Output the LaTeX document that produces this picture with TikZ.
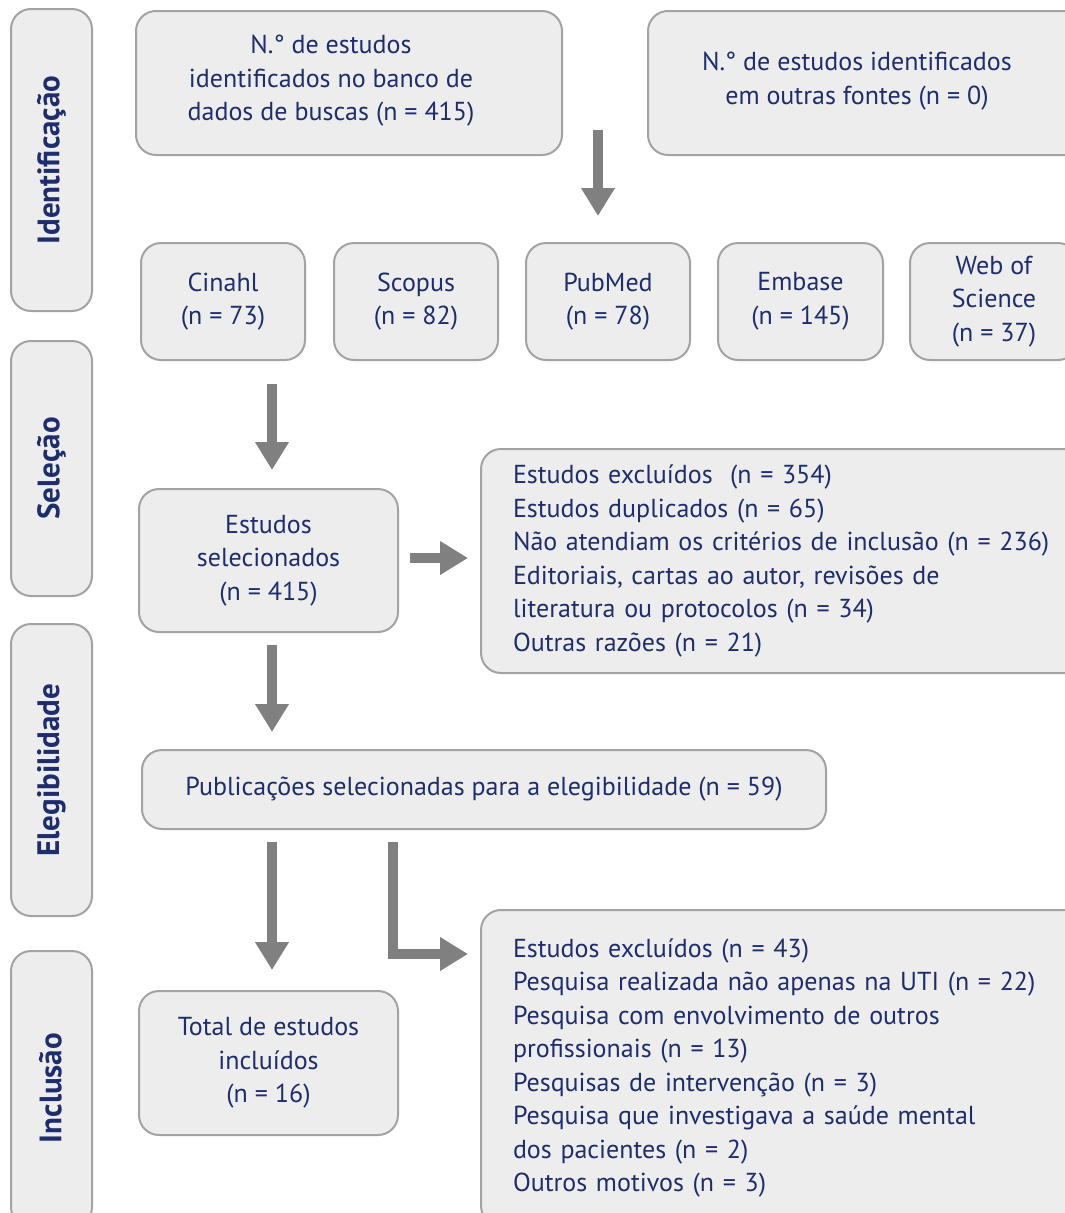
\documentclass[tikz,border=0pt]{standalone}
\usepackage{fontspec}
\setmainfont{PT Sans}
\usetikzlibrary{arrows.meta}
\definecolor{navy}{HTML}{1E2D6C}
\definecolor{boxfill}{HTML}{EDEDED}
\definecolor{boxline}{HTML}{A3A3A3}
\definecolor{arr}{HTML}{808080}
\tikzset{
  box/.style={draw=boxline, fill=boxfill, line width=2pt, rounded corners=20pt,
    anchor=north west, inner sep=0pt, text=navy, font=\fontsize{26}{33.5}\selectfont, align=center},
  side/.style={box},
  sidetext/.style={rotate=90, text=navy, font=\fontsize{31}{34}\selectfont\bfseries},
  plaintext/.style={text=navy, font=\fontsize{26}{33.5}\selectfont, align=center},
  lbox/.style={box, align=left, inner xsep=32pt},
  bigarrow/.style={draw=arr, line width=10pt, -{Triangle[width=32pt,length=28pt]}},
}
\begin{document}
\begin{tikzpicture}[x=1pt,y=-1pt]
\useasboundingbox (0,0) rectangle (1065,1213);
% side boxes
\node[side, minimum width=81, minimum height=302] (s1) at (10,8) {};
\node[sidetext] (t1) at (s1.center) {Identificação};
\node[side, minimum width=81, minimum height=255] (s2) at (10,340) {};
\node[sidetext] (t2) at (s2.center) {Seleção};
\node[side, minimum width=81, minimum height=292] (s3) at (10,623) {};
\node[sidetext] (t3) at (s3.center) {Elegibilidade};
\node[side, minimum width=81, minimum height=276] (s4) at (10,950) {};
\node[sidetext] (t4) at (50.5,1088) {Inclusão};
% top boxes
\node[box, minimum width=426, minimum height=144] (db) at (135,10) {};
\node[plaintext] (dbt) at (331,81) {N.° de estudos\\identificados no banco de\\dados de buscas (n = 415)};
\node[box, minimum width=440, minimum height=144] (ot) at (647,10) {};
\node[plaintext] (ott) at (857,81) {N.° de estudos identificados\\em outras fontes (n = 0)};
% databases
\node[box, minimum width=164, minimum height=117] (cin) at (140,242) {Cinahl\\(n = 73)};
\node[box, minimum width=164, minimum height=117] (sco) at (333,242) {Scopus\\(n = 82)};
\node[box, minimum width=164, minimum height=117] (pub) at (525,242) {PubMed\\(n = 78)};
\node[box, minimum width=165, minimum height=117] (emb) at (717,242) {Embase\\(n = 145)};
\node[box, minimum width=168, minimum height=117] (wos) at (909,242) {Web of\\Science\\(n = 37)};
% selection
\node[box, minimum width=259, minimum height=143] (sel) at (138,488) {Estudos\\selecionados\\(n = 415)};
\node[lbox, minimum height=224, text width=600] (exc1) at (480,448) {Estudos excluídos~ (n = 354)\\Estudos duplicados (n = 65)\\Não atendiam os critérios de inclusão (n = 236)\\Editoriais, cartas ao autor, revisões de\\literatura ou protocolos (n = 34)\\Outras razões (n = 21)};
% eligibility
\node[box, minimum width=684, minimum height=79] (ele) at (141,749) {Publicações selecionadas para a elegibilidade (n = 59)};
% inclusion
\node[box, minimum width=259, minimum height=144] (tot) at (138,990) {Total de estudos\\incluídos\\(n = 16)};
\node[lbox, minimum height=316, text width=600] (exc2) at (480,909) {Estudos excluídos (n = 43)\\Pesquisa realizada não apenas na UTI (n = 22)\\Pesquisa com envolvimento de outros\\profissionais (n = 13)\\Pesquisas de intervenção (n = 3)\\Pesquisa que investigava a saúde mental\\dos pacientes (n = 2)\\Outros motivos (n = 3)};
% arrow coordinates
\coordinate (a1s) at (598,130); \coordinate (a1e) at (598,216);
\coordinate (a2s) at (272,384); \coordinate (a2e) at (272,470);
\coordinate (a3s) at (410,558); \coordinate (a3e) at (468,558);
\coordinate (a4s) at (272,645); \coordinate (a4e) at (272,732);
\coordinate (a5s) at (272,842); \coordinate (a5e) at (272,970);
\coordinate (a6s) at (393,842); \coordinate (a6c) at (393,954); \coordinate (a6e) at (468,954);
\draw[bigarrow] (a1s) -- (a1e);
\draw[bigarrow] (a2s) -- (a2e);
\draw[bigarrow] (a3s) -- (a3e);
\draw[bigarrow] (a4s) -- (a4e);
\draw[bigarrow] (a5s) -- (a5e);
\draw[bigarrow, miter limit=10] (a6s) -- (a6c) -- (a6e);
\end{tikzpicture}
\end{document}
